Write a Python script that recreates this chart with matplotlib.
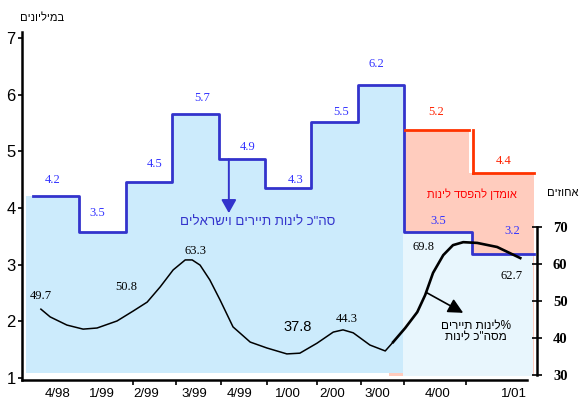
import matplotlib
matplotlib.use('Agg')
import matplotlib.pyplot as plt

HEB = ['Liberation Sans', 'DejaVu Sans']
SERIF = ['Liberation Serif', 'DejaVu Serif']


def heb(s):
    # matplotlib has no bidi support, so hand it the visual order
    return s[::-1]


# quarters and axis ticks
quarters = ['4/98', '1/99', '2/99', '3/99', '4/99', '1/00', '2/00', '3/00', '4/00', '1/01']
quarter_label_x = [0.52, 1.49, 2.44, 3.47, 4.46, 5.50, 6.44, 7.41, 8.71, 10.37]
tick_x = [2.16, 3.08, 4.05, 5.04, 6.12, 7.07, 8.0, 9.33]

# total stays (millions), step levels as drawn and their labels
edges = [0, 1, 2, 3, 4, 5, 6, 7, 8, 9.45, 10.8]
total_stays = [4.21, 3.58, 4.46, 5.66, 4.86, 4.35, 5.52, 6.17, 3.58, 3.19]
total_labels = ['4.2', '3.5', '4.5', '5.7', '4.9', '4.3', '5.5', '6.2', '3.5', '3.2']
total_label_x = [0.43, 1.38, 2.63, 3.64, 4.63, 5.65, 6.64, 7.39, 8.73, 10.32]
total_label_y = [4.49, 3.91, 4.78, 5.94, 5.08, 4.49, 5.69, 6.54, 3.77, 3.59]

# estimated loss of stays
loss_edges = [8.02, 9.40, 10.8]
loss_levels = [5.38, 4.62]
loss_labels = ['5.2', '4.4']
loss_label_x = [8.69, 10.15]
loss_label_y = [5.69, 4.83]

# tourist share of stays (%)
tour_x = [0.17, 0.37, 0.73, 1.08, 1.38, 1.81, 2.16, 2.46, 2.74, 3.02, 3.28, 3.43,
          3.60, 3.81, 4.03, 4.31, 4.68, 5.04, 5.47, 5.75, 6.12, 6.47, 6.68, 6.90,
          7.26, 7.59, 7.76, 8.02, 8.28, 8.45, 8.62, 8.84, 9.05, 9.27, 9.57, 10.0, 10.5]
tour_pct = [47.8, 45.7, 43.5, 42.4, 42.7, 44.6, 47.3, 49.7, 53.8, 58.4, 61.1, 61.1,
            59.7, 55.7, 50.3, 43.0, 38.9, 37.3, 35.7, 35.9, 38.6, 41.6, 42.2, 41.4,
            38.1, 36.5, 38.9, 42.7, 47.0, 51.6, 57.6, 62.4, 65.1, 65.9, 65.7, 64.6, 61.6]
tour_labels = ['49.7', '50.8', '63.3', '37.8', '44.3', '69.8', '62.7']
tour_label_x = [0.17, 2.0, 3.51, 5.71, 6.75, 8.41, 10.32]
tour_label_y = [51.4, 53.8, 63.5, 43.0, 45.1, 64.6, 56.8]

BLUE = '#3333cc'
RED = '#ff3300'
FILL_BLUE = '#ccebfc'
FILL_LIGHT = '#e8f6fd'
FILL_RED = '#ffccbe'

fig = plt.figure(figsize=(5.88, 4.03), dpi=100)
ax = fig.add_axes([22 / 588, 1 - 380 / 403, (537 - 22) / 588, (380 - 32) / 403])
ax.set_xlim(-0.237, 10.86)
ax.set_ylim(0.965, 7.106)

# red estimate area (behind the blue one)
ax.fill_between([7.67, loss_edges[1], loss_edges[2]], 1.03,
                [loss_levels[0], loss_levels[1], loss_levels[1]],
                step='post', color=FILL_RED, lw=0, zorder=1)

# blue area below the total stays step
fx = [-0.15] + edges[:9]
fy = [total_stays[0]] + total_stays[:8] + [total_stays[7]]
ax.fill_between(fx, 1.08, fy[:len(fx)], step='post', color=FILL_BLUE, lw=0, zorder=2)
ax.fill_between([7.97, edges[9], 10.78], 1.04,
                [total_stays[8], total_stays[9], total_stays[9]],
                step='post', color=FILL_LIGHT, lw=0, zorder=2)

ax.step(edges, total_stays + [total_stays[-1]], where='post', color=BLUE, lw=2.0, zorder=3)
ax.plot([loss_edges[0], loss_edges[1]], [loss_levels[0]] * 2, color=RED, lw=2.0, zorder=3)
ax.plot([loss_edges[1] + 0.08] * 2, loss_levels, color=RED, lw=2.0, zorder=3)
ax.plot([loss_edges[1] + 0.08, loss_edges[2]], [loss_levels[1]] * 2, color=RED, lw=2.0, zorder=3)

for t, x, y in zip(total_labels, total_label_x, total_label_y):
    ax.text(x, y, t, color='#3333ff', fontsize=9, family=SERIF, ha='center', va='center', zorder=4)
for t, x, y in zip(loss_labels, loss_label_x, loss_label_y):
    ax.text(x, y, t, color='#ff2200', fontsize=9, family=SERIF, ha='center', va='center', zorder=4)

ax.annotate('', xy=(4.22, 3.91), xytext=(4.22, 4.86),
            arrowprops=dict(arrowstyle='-|>,head_length=0.8,head_width=0.45',
                            color=BLUE, lw=1.4, shrinkA=0, shrinkB=0), zorder=4)
ax.text(4.85, 3.75, heb('סה"כ לינות תיירים וישראלים'), color=BLUE, fontsize=9.5,
        family=HEB, ha='center', va='center', zorder=4)
ax.text(9.46, 4.24, heb('אומדן להפסד לינות'), color='#ff0000', fontsize=8,
        family=HEB, ha='center', va='center', zorder=4)

# axes styling
for s in ['top', 'right']:
    ax.spines[s].set_visible(False)
ax.spines['left'].set_linewidth(1.8)
ax.spines['bottom'].set_linewidth(1.8)
ax.spines['bottom'].set_bounds(-0.237, 10.65)
ax.set_yticks([1, 2, 3, 4, 5, 6, 7])
ax.tick_params(axis='y', direction='out', length=3, width=1.2, pad=1.5, labelsize=12)
for lb in ax.get_yticklabels():
    lb.set_family(HEB)
ax.set_xticks(tick_x)
ax.set_xticklabels([])
ax.tick_params(axis='x', which='major', direction='out', length=3.5, width=1.2)
ax.set_xticks(quarter_label_x, minor=True)
ax.set_xticklabels(quarters, minor=True, fontsize=9.5, family=HEB)
ax.tick_params(axis='x', which='minor', length=0, pad=6)

# percent axis
ax2 = ax.twinx()
ax2.set_ylim(28.65, 122.7)
for s in ['top', 'left', 'bottom']:
    ax2.spines[s].set_visible(False)
ax2.spines['right'].set_bounds(30, 70)
ax2.spines['right'].set_linewidth(1.8)
ax2.set_yticks([30, 40, 50, 60, 70])
ax2.tick_params(axis='y', direction='inout', length=7, width=1.2, pad=8, labelsize=10.5)
for lb in ax2.get_yticklabels():
    lb.set_family(SERIF)
    lb.set_fontweight('bold')

split = 26
ax2.plot(tour_x[:split + 1], tour_pct[:split + 1], color='black', lw=1.1, zorder=5)
ax2.plot(tour_x[split:], tour_pct[split:], color='black', lw=1.9, zorder=5)
for t, x, y in zip(tour_labels, tour_label_x, tour_label_y):
    big = t == '37.8'
    ax2.text(x, y, t, color='black', fontsize=10.5 if big else 9,
             family=HEB if big else SERIF, ha='center', va='center', zorder=6)

ax2.annotate('', xy=(9.27, 46.8), xytext=(8.49, 52.2),
             arrowprops=dict(arrowstyle='-|>,head_length=0.9,head_width=0.45',
                             color='black', lw=1.2, shrinkA=0, shrinkB=0), zorder=6)
ax2.text(9.55, 43.3, heb('%לינות תיירים'), fontsize=8.5, family=HEB, ha='center', va='center')
ax2.text(9.55, 40.3, heb('מסה"כ לינות'), fontsize=8.5, family=HEB, ha='center', va='center')

fig.text(42 / 588, 1 - 18 / 403, heb('במיליונים'), fontsize=8, family=HEB, ha='center', va='center')
fig.text(563 / 588, 1 - 193 / 403, heb('אחוזים'), fontsize=8, family=HEB, ha='center', va='center')

fig.savefig('out.png', dpi=100)
